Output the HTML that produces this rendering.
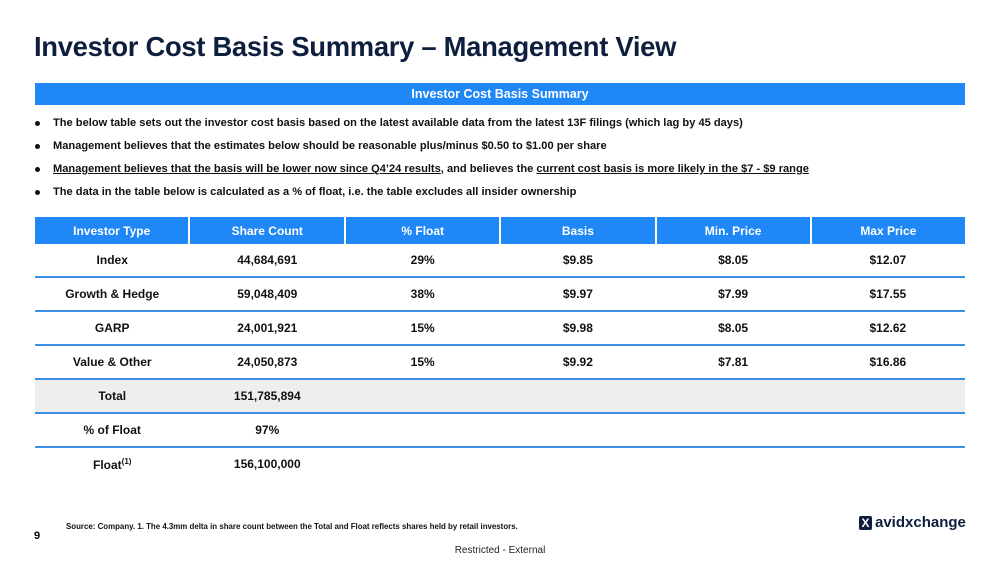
<!DOCTYPE html>
<html><head><meta charset="utf-8"><style>
body{margin:0;width:1000px;height:563px;background:#fff;font-family:"Liberation Sans",sans-serif;position:relative;overflow:hidden}
.title{position:absolute;left:34px;top:31px;font-size:27.4px;font-weight:bold;color:#0e1e3d;letter-spacing:-0.3px}
.banner{position:absolute;left:35px;top:83px;width:930px;height:22px;background:#1f87f6;color:#fff;font-weight:bold;font-size:12.5px;text-align:center;line-height:22px}
ul{position:absolute;left:34px;top:114px;margin:0;padding:0;list-style:none;font-size:11.1px;font-weight:bold;color:#111}
li{height:23px;line-height:18px;position:relative;padding-left:19px}
li:before{content:"";position:absolute;left:1px;top:7px;width:5px;height:5px;border-radius:50%;background:#111}
u{text-decoration:underline}
table{position:absolute;left:35px;top:217px;width:930px;border-collapse:collapse;font-size:12px;font-weight:bold;color:#111}
th{background:#1f87f6;color:#fff;height:27px;padding:0;border-left:2px solid #fff;font-weight:bold;width:155px}
th:first-child{border-left:none}
td{height:32px;text-align:center;padding:0;border-bottom:2px solid #3f8ee8}
tr.gray td{background:#eeeeee}
.src{position:absolute;left:66px;top:522px;font-size:7.9px;font-weight:bold;color:#111}
.pg{position:absolute;left:34px;top:530px;font-size:11px;font-weight:bold}
.restr{position:absolute;left:0;width:1000px;text-align:center;top:545px;font-size:10px;color:#222}
.logo{position:absolute;left:859px;top:514px;font-size:15px;font-weight:bold;color:#0e1e3d;display:flex;align-items:center}
.logo span.x{display:inline-block;width:13px;height:14px;background:#0e1e3d;color:#fff;font-size:12px;line-height:14px;text-align:center;border-radius:2px;margin-right:3px}
</style></head><body>
<div class="title">Investor Cost Basis Summary – Management View</div>
<div class="banner">Investor Cost Basis Summary</div>
<ul>
<li>The below table sets out the investor cost basis based on the latest available data from the latest 13F filings (which lag by 45 days)</li>
<li>Management believes that the estimates below should be reasonable plus/minus $0.50 to $1.00 per share</li>
<li><u>Management believes that the basis will be lower now since Q4’24 results</u>, and believes the <u>current cost basis is more likely in the $7 - $9 range</u></li>
<li>The data in the table below is calculated as a % of float, i.e. the table excludes all insider ownership</li>
</ul>
<table>
<tr><th>Investor Type</th><th>Share Count</th><th>% Float</th><th>Basis</th><th>Min. Price</th><th>Max Price</th></tr>
<tr><td>Index</td><td>44,684,691</td><td>29%</td><td>$9.85</td><td>$8.05</td><td>$12.07</td></tr>
<tr><td>Growth &amp; Hedge</td><td>59,048,409</td><td>38%</td><td>$9.97</td><td>$7.99</td><td>$17.55</td></tr>
<tr><td>GARP</td><td>24,001,921</td><td>15%</td><td>$9.98</td><td>$8.05</td><td>$12.62</td></tr>
<tr><td>Value &amp; Other</td><td>24,050,873</td><td>15%</td><td>$9.92</td><td>$7.81</td><td>$16.86</td></tr>
<tr class="gray"><td>Total</td><td>151,785,894</td><td></td><td></td><td></td><td></td></tr>
<tr><td>% of Float</td><td>97%</td><td></td><td></td><td></td><td></td></tr>
<tr><td style="border-bottom:none">Float<sup style="font-size:8px">(1)</sup></td><td style="border-bottom:none">156,100,000</td><td style="border-bottom:none"></td><td style="border-bottom:none"></td><td style="border-bottom:none"></td><td style="border-bottom:none"></td></tr>
</table>
<div class="src">Source: Company. 1. The 4.3mm delta in share count between the Total and Float reflects shares held by retail investors.</div>
<div class="pg">9</div>
<div class="logo"><span class="x">X</span>avidxchange</div>
<div class="restr">Restricted - External</div>
</body></html>
